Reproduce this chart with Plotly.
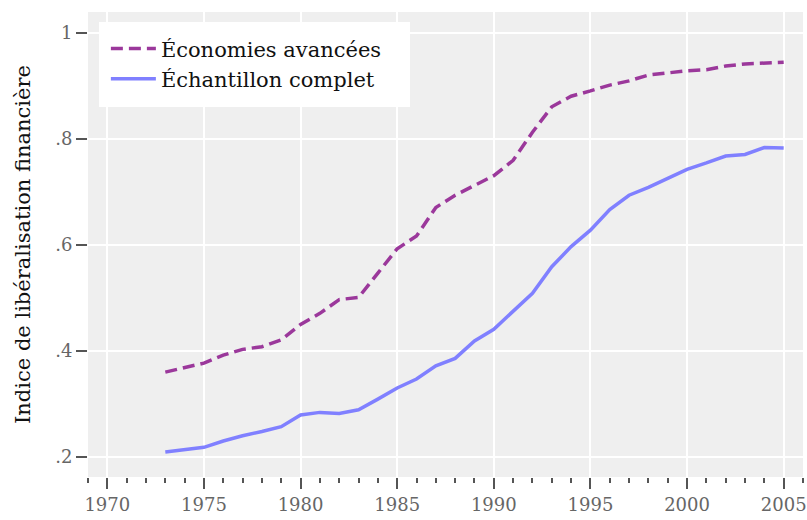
import plotly.graph_objects as go

# years covered by both series
years = list(range(1973, 2006))

# advanced economies (dashed)
avancees = [0.360, 0.368, 0.377, 0.392, 0.403, 0.408, 0.421, 0.450, 0.471, 0.497,
            0.501, 0.547, 0.593, 0.617, 0.671, 0.694, 0.713, 0.731, 0.760, 0.813,
            0.861, 0.881, 0.891, 0.902, 0.910, 0.921, 0.925, 0.929, 0.931, 0.938,
            0.942, 0.944, 0.945]

# full sample (solid)
complet = [0.209, 0.213, 0.218, 0.230, 0.240, 0.248, 0.257, 0.279, 0.284, 0.282,
           0.289, 0.309, 0.330, 0.347, 0.372, 0.386, 0.419, 0.441, 0.474, 0.509,
           0.559, 0.597, 0.628, 0.667, 0.694, 0.709, 0.726, 0.743, 0.755, 0.768,
           0.771, 0.784, 0.783]

y_ticks = [0.2, 0.4, 0.6, 0.8, 1.0]
y_labels = [".2", ".4", ".6", ".8", "1"]
x_ticks = [1970, 1975, 1980, 1985, 1990, 1995, 2000, 2005]

font_family = "DejaVu Serif"

fig = go.Figure()
fig.add_trace(go.Scatter(
    x=years, y=avancees, mode="lines", name="Économies avancées",
    line=dict(color="#9b389b", width=3.5, dash="12px,6px"),
))
fig.add_trace(go.Scatter(
    x=years, y=complet, mode="lines", name="Échantillon complet",
    line=dict(color="#8080ff", width=3.5),
))

# white legend box, drawn as a shape so it can carry the wider padding
fig.add_shape(type="rect", xref="paper", yref="paper",
              x0=0.0154, x1=0.4503, y0=0.7957, y1=0.9785,
              fillcolor="white", line_width=0, layer="below")

fig.update_layout(
    width=807, height=520,
    margin=dict(l=88, r=4, t=12, b=43, autoexpand=False),
    plot_bgcolor="#efefef",
    paper_bgcolor="white",
    font=dict(family=font_family, size=20, color="#222222"),
    showlegend=True,
    legend=dict(
        x=0.025, y=0.965, xanchor="left", yanchor="top",
        bgcolor="rgba(0,0,0,0)", borderwidth=0,
        font=dict(family=font_family, size=21, color="#111111"),
        itemwidth=45, tracegroupgap=0,
    ),
)

fig.update_xaxes(
    range=[1969, 2006],
    tickvals=x_ticks,
    ticks="outside", ticklen=11, tickwidth=1.5, tickcolor="#555555",
    tickfont=dict(color="#666666", size=18),
    showgrid=True, gridcolor="white", gridwidth=1.5,
    zeroline=False, showline=False,
    minor=dict(dtick=1, ticks="outside", ticklen=5, tickwidth=1.5,
               tickcolor="#555555", showgrid=False),
)
fig.update_yaxes(
    range=[0.162, 1.04],
    tickvals=y_ticks, ticktext=y_labels,
    ticks="outside", ticklen=11, tickwidth=1.5, tickcolor="#555555",
    tickfont=dict(color="#666666", size=18),
    showgrid=True, gridcolor="white", gridwidth=1.5,
    zeroline=False, showline=False,
    title=dict(text="Indice de libéralisation financière",
               font=dict(size=21, color="#111111"), standoff=18),
)

# drop the default page margin so the figure sits at the window corner
fig.write_html("out.html", config={"displayModeBar": False},
               post_script="document.body.style.margin='0';")
